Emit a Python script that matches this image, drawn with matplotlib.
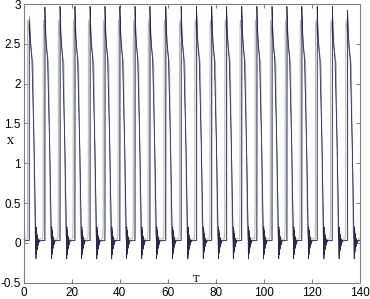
import numpy as np
import matplotlib
matplotlib.use("Agg")
import matplotlib.pyplot as plt

# spike (rise) times
rise_times = [2.4, 8.9, 15.2, 21.4, 27.7, 33.9, 40.1, 46.4, 52.6, 59.2, 65.6,
              72.0, 78.3, 84.5, 90.8, 97.1, 103.4, 109.6, 115.8, 122.2, 128.5, 134.8]
peak_values = [2.80, 2.96, 2.97, 2.97, 2.97, 2.97, 2.97, 2.97, 2.97, 2.97, 2.97,
               2.97, 2.97, 2.97, 2.97, 2.97, 2.97, 2.97, 2.97, 2.97, 2.97, 2.92]

# one spike of the dark trace: offsets from rise time and values (peak inserted per cycle)
dark_offsets = [-0.05, 0.0, 0.3, 0.7, 1.1, 2.0, 2.8]
dark_values = [0.03, None, 2.65, 2.45, 2.30, 1.20, -0.20]
ring_offsets = [2.87, 2.94, 3.01, 3.08, 3.15, 3.22, 3.29, 3.36, 3.43, 3.50, 3.57,
                3.64, 3.71, 3.78, 3.85, 3.92, 4.00, 4.10, 4.25, 4.40]
ring_values = [0.20, -0.15, 0.16, -0.12, 0.12, -0.09, 0.09, -0.07, 0.07, -0.05, 0.05,
               -0.03, 0.04, -0.02, 0.03, 0.00, 0.03, 0.01, 0.03, 0.03]
dark_baseline = 0.03

# grey trace spike
gray_offsets = [-1.0, -0.85, -0.75, -0.70, -0.55, 0.6, 1.6, 2.2, 2.4, 2.6]
gray_values = [0.05, 0.10, 0.30, 2.70, 2.80, 2.45, 2.25, 0.40, 0.12, 0.05]
gray_baseline = 0.05

# teal trace spike
teal_offsets = [0.10, 0.15, 0.5, 1.3, 2.1, 2.9, 3.0, 3.1, 3.2, 3.35]
teal_values = [0.03, 2.85, 2.55, 2.28, 1.10, -0.15, 0.10, -0.05, 0.05, 0.02]
teal_baseline = 0.02

x_ticks = [0, 20, 40, 60, 80, 100, 120, 140]
y_ticks = [-0.5, 0, 0.5, 1, 1.5, 2, 2.5, 3]
y_tick_labels = ["-0.5", "0", "0.5", "1", "1.5", "2", "2.5", "3"]


def build(offsets, values, baseline, peaks=None, extra_off=None, extra_val=None):
    ts = [0.0]
    vs = [baseline]
    for i, t0 in enumerate(rise_times):
        offs = list(offsets)
        vals = [peaks[i] if v is None else v for v in values]
        if extra_off is not None:
            offs += list(extra_off)
            vals += list(extra_val)
        ts += [t0 + o for o in offs]
        vs += vals
    ts.append(140.0)
    vs.append(baseline)
    return np.array(ts), np.array(vs)


fig = plt.figure(figsize=(3.70, 2.99), dpi=100)
ax = fig.add_axes([23.5 / 370, 16.3 / 299, 336.5 / 370, 278.7 / 299])

gt, gv = build(gray_offsets, gray_values, gray_baseline)
ax.plot(gt, gv, color="#b4b4b4", lw=0.7)
tt, tv = build(teal_offsets, teal_values, teal_baseline)
ax.plot(tt, tv, color="#6f8f99", lw=0.5)
dt, dv = build(dark_offsets, dark_values, dark_baseline, peaks=peak_values,
               extra_off=ring_offsets, extra_val=ring_values)
ax.plot(dt, dv, color="#2e2550", lw=0.55)

ax.set_xlim(0, 140)
ax.set_ylim(-0.5, 3)
ax.set_xticks(x_ticks)
ax.set_yticks(y_ticks)
ax.set_yticklabels(y_tick_labels)
ax.tick_params(direction="in", length=3, width=0.6, top=True, right=True,
               labelsize=8.5, colors="#666666", labelcolor="black")
ax.tick_params(axis="y", pad=2)
ax.tick_params(axis="x", pad=3)
for lab in ax.get_xticklabels() + ax.get_yticklabels():
    lab.set_family("Liberation Sans")
for s in ax.spines.values():
    s.set_color("#808080")
    s.set_linewidth(0.8)

fig.text(196 / 370, 1 - 280 / 299, "T", fontsize=7, family="DejaVu Serif",
         ha="center", va="center")
fig.text(10 / 370, 1 - 142 / 299, "X", fontsize=7, family="DejaVu Serif",
         ha="center", va="center")

fig.savefig("out.png", dpi=100)
